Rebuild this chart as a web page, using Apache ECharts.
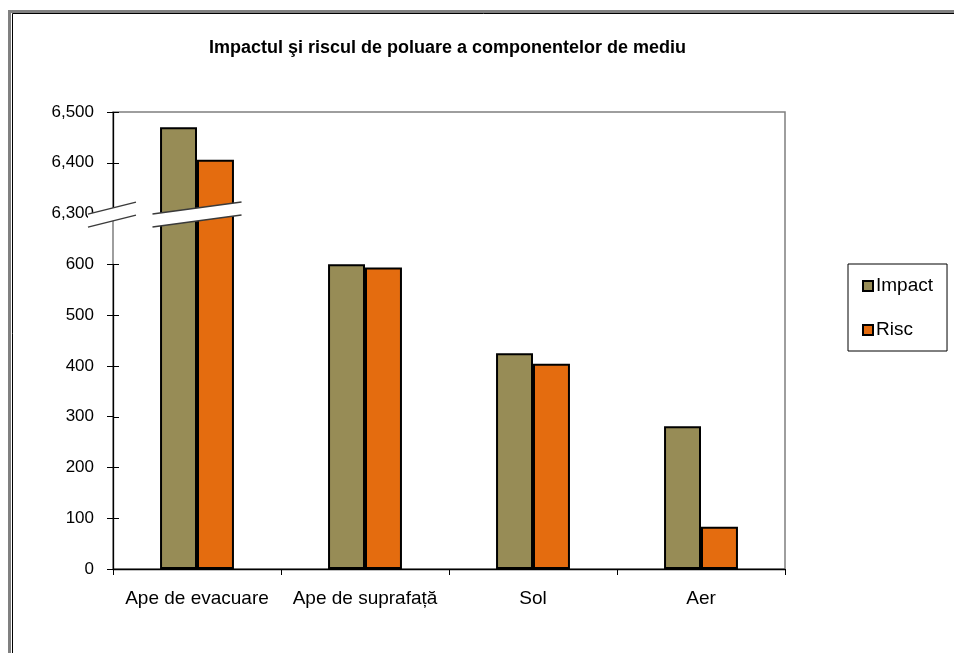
<!DOCTYPE html>
<html>
<head>
<meta charset="utf-8">
<script src="https://cdn.jsdelivr.net/npm/echarts@6/dist/echarts.min.js"></script>
<style>
  html, body { margin: 0; padding: 0; background: #fff; }
  #chart { width: 954px; height: 653px; }
</style>
</head>
<body>
<div id="chart"></div>
<script>
// Data
const categories = ['Ape de evacuare', 'Ape de suprafață', 'Sol', 'Aer'];
const seriesNames = ['Impact', 'Risc'];
const impactValues = [6470, 600, 425, 281];
const riscValues = [6406, 594, 404, 83];
const titleText = 'Impactul şi riscul de poluare a componentelor de mediu';

// Value axis: 0..6500 by 100, with the stretch 600..6300 squeezed into one step
const yMin = 0;
const yMax = 6500;
const yStep = 100;
const yBreak = { start: 600, end: 6300, gap: 100 };

const FONT = '"Liberation Sans", Arial, sans-serif';
const colors = ['#978C56', '#E46C0F'];

const chart = echarts.init(document.getElementById('chart'), null, { renderer: 'canvas' });

const option = {
  animation: false,
  backgroundColor: '#fff',
  textStyle: { fontFamily: FONT },
  color: colors,
  grid: {
    left: 113, right: 169, top: 112, bottom: 84,
    containLabel: false,
    outerBoundsMode: 'none',
    show: true,
    borderColor: '#7f7f7f',
    borderWidth: 1.5,
    backgroundColor: '#fff'
  },
  legend: {
    orient: 'vertical',
    left: 848,
    top: 264,
    padding: [11, 14, 10, 14],
    itemGap: 22,
    itemWidth: 10,
    itemHeight: 10,
    icon: 'rect',
    borderColor: '#000',
    borderWidth: 1,
    borderRadius: 0,
    backgroundColor: '#fff',
    textStyle: { fontFamily: FONT, fontSize: 19, color: '#000', padding: [0, 0, 0, -2], lineHeight: 22 },
    data: seriesNames
  },
  xAxis: {
    type: 'category',
    data: categories,
    boundaryGap: true,
    axisLine: { show: true, lineStyle: { color: '#000', width: 1.3 } },
    axisTick: { show: true, length: 6, alignWithLabel: false, lineStyle: { color: '#000', width: 1 } },
    axisLabel: { margin: 20, fontFamily: FONT, fontSize: 19, color: '#000', interval: 0 },
    splitLine: { show: false }
  },
  yAxis: {
    type: 'value',
    min: yMin,
    max: yMax,
    interval: yStep,
    breaks: [{ start: yBreak.start, end: yBreak.end, gap: yBreak.gap }],
    breakArea: { show: false },
    breakLabelLayout: { moveOverlap: false },
    splitLine: { show: false },
    axisLine: { show: true, lineStyle: { color: '#000', width: 1.3 } },
    axisTick: { show: true, inside: false, length: 6, lineStyle: { color: '#000', width: 1 } },
    axisLabel: {
      margin: 19,
      fontFamily: FONT,
      fontSize: 17,
      color: '#000',
      formatter: function (v) { return v.toLocaleString('en-US'); }
    }
  },
  series: [
    {
      name: seriesNames[0],
      type: 'bar',
      data: impactValues,
      barWidth: '22%',
      barGap: '0%',
      itemStyle: { color: colors[0], borderColor: '#000', borderWidth: 2 }
    },
    {
      name: seriesNames[1],
      type: 'bar',
      data: riscValues,
      barWidth: '22%',
      barGap: '0%',
      itemStyle: { color: colors[1], borderColor: '#000', borderWidth: 2 }
    }
  ]
};

chart.setOption(option);

// Slanted break marks across the value axis and the first group of bars,
// placed from the axis scales at the upper edge of the break.
function breakMark(xl, xr, yc, id) {
  const rise = 12, half = 6.5;
  const top = (x) => yc - half + rise / 2 - rise * (x - xl) / (xr - xl);
  const bot = (x) => yc + half + rise / 2 - rise * (x - xl) / (xr - xl);
  const lineStyle = { stroke: '#3a3a3a', lineWidth: 1.4 };
  return [
    { type: 'polygon', id: id + 'fill', z: 100, silent: true,
      shape: { points: [[xl, top(xl)], [xr, top(xr)], [xr, bot(xr)], [xl, bot(xl)]] },
      style: { fill: '#fff' } },
    { type: 'polyline', id: id + 'top', z: 101, silent: true,
      shape: { points: [[xl, top(xl)], [xr, top(xr)]] }, style: lineStyle },
    { type: 'polyline', id: id + 'bot', z: 101, silent: true,
      shape: { points: [[xl, bot(xl)], [xr, bot(xr)]] }, style: lineStyle }
  ];
}

const firstCatX = chart.convertToPixel({ xAxisIndex: 0 }, 0);
const bandW = chart.convertToPixel({ xAxisIndex: 0 }, 1) - firstCatX;
const axisX = firstCatX - bandW / 2;
const yBreakPx = chart.convertToPixel({ yAxisIndex: 0 }, yBreak.end) + 1;

const graphics = [];

// inner half of the cross-shaped value-axis ticks
for (let v = yMin; v <= yMax; v += yStep) {
  if (v > yBreak.start && v < yBreak.end) continue;
  const y = Math.round(chart.convertToPixel({ yAxisIndex: 0 }, v)) + 0.5;
  graphics.push({
    type: 'line', id: 'tick' + v, silent: true, z: 50,
    shape: { x1: axisX, y1: y, x2: axisX + 6, y2: y },
    style: { stroke: '#000', lineWidth: 1 }
  });
}

graphics.push.apply(graphics, breakMark(axisX - 25, axisX + 23, yBreakPx, 'b1'));
graphics.push.apply(graphics, breakMark(firstCatX - bandW * 0.265, firstCatX + bandW * 0.265, yBreakPx, 'b2'));

// chart title
graphics.push({
  type: 'text', id: 'title', left: 209, top: 39, silent: true,
  style: { text: titleText, font: 'bold 18px ' + FONT, fill: '#000' }
});

// page frame
graphics.push({
  type: 'rect', id: 'frameOuter', silent: true, z: 200,
  shape: { x: 9.5, y: 11.5, width: 2000, height: 2000 },
  style: { fill: 'none', stroke: '#808080', lineWidth: 3 }
});
graphics.push({
  type: 'rect', id: 'frameInner', silent: true, z: 200,
  shape: { x: 12.5, y: 13.5, width: 2000, height: 2000 },
  style: { fill: 'none', stroke: '#000', lineWidth: 1 }
});

chart.setOption({ graphic: graphics });
</script>
</body>
</html>
